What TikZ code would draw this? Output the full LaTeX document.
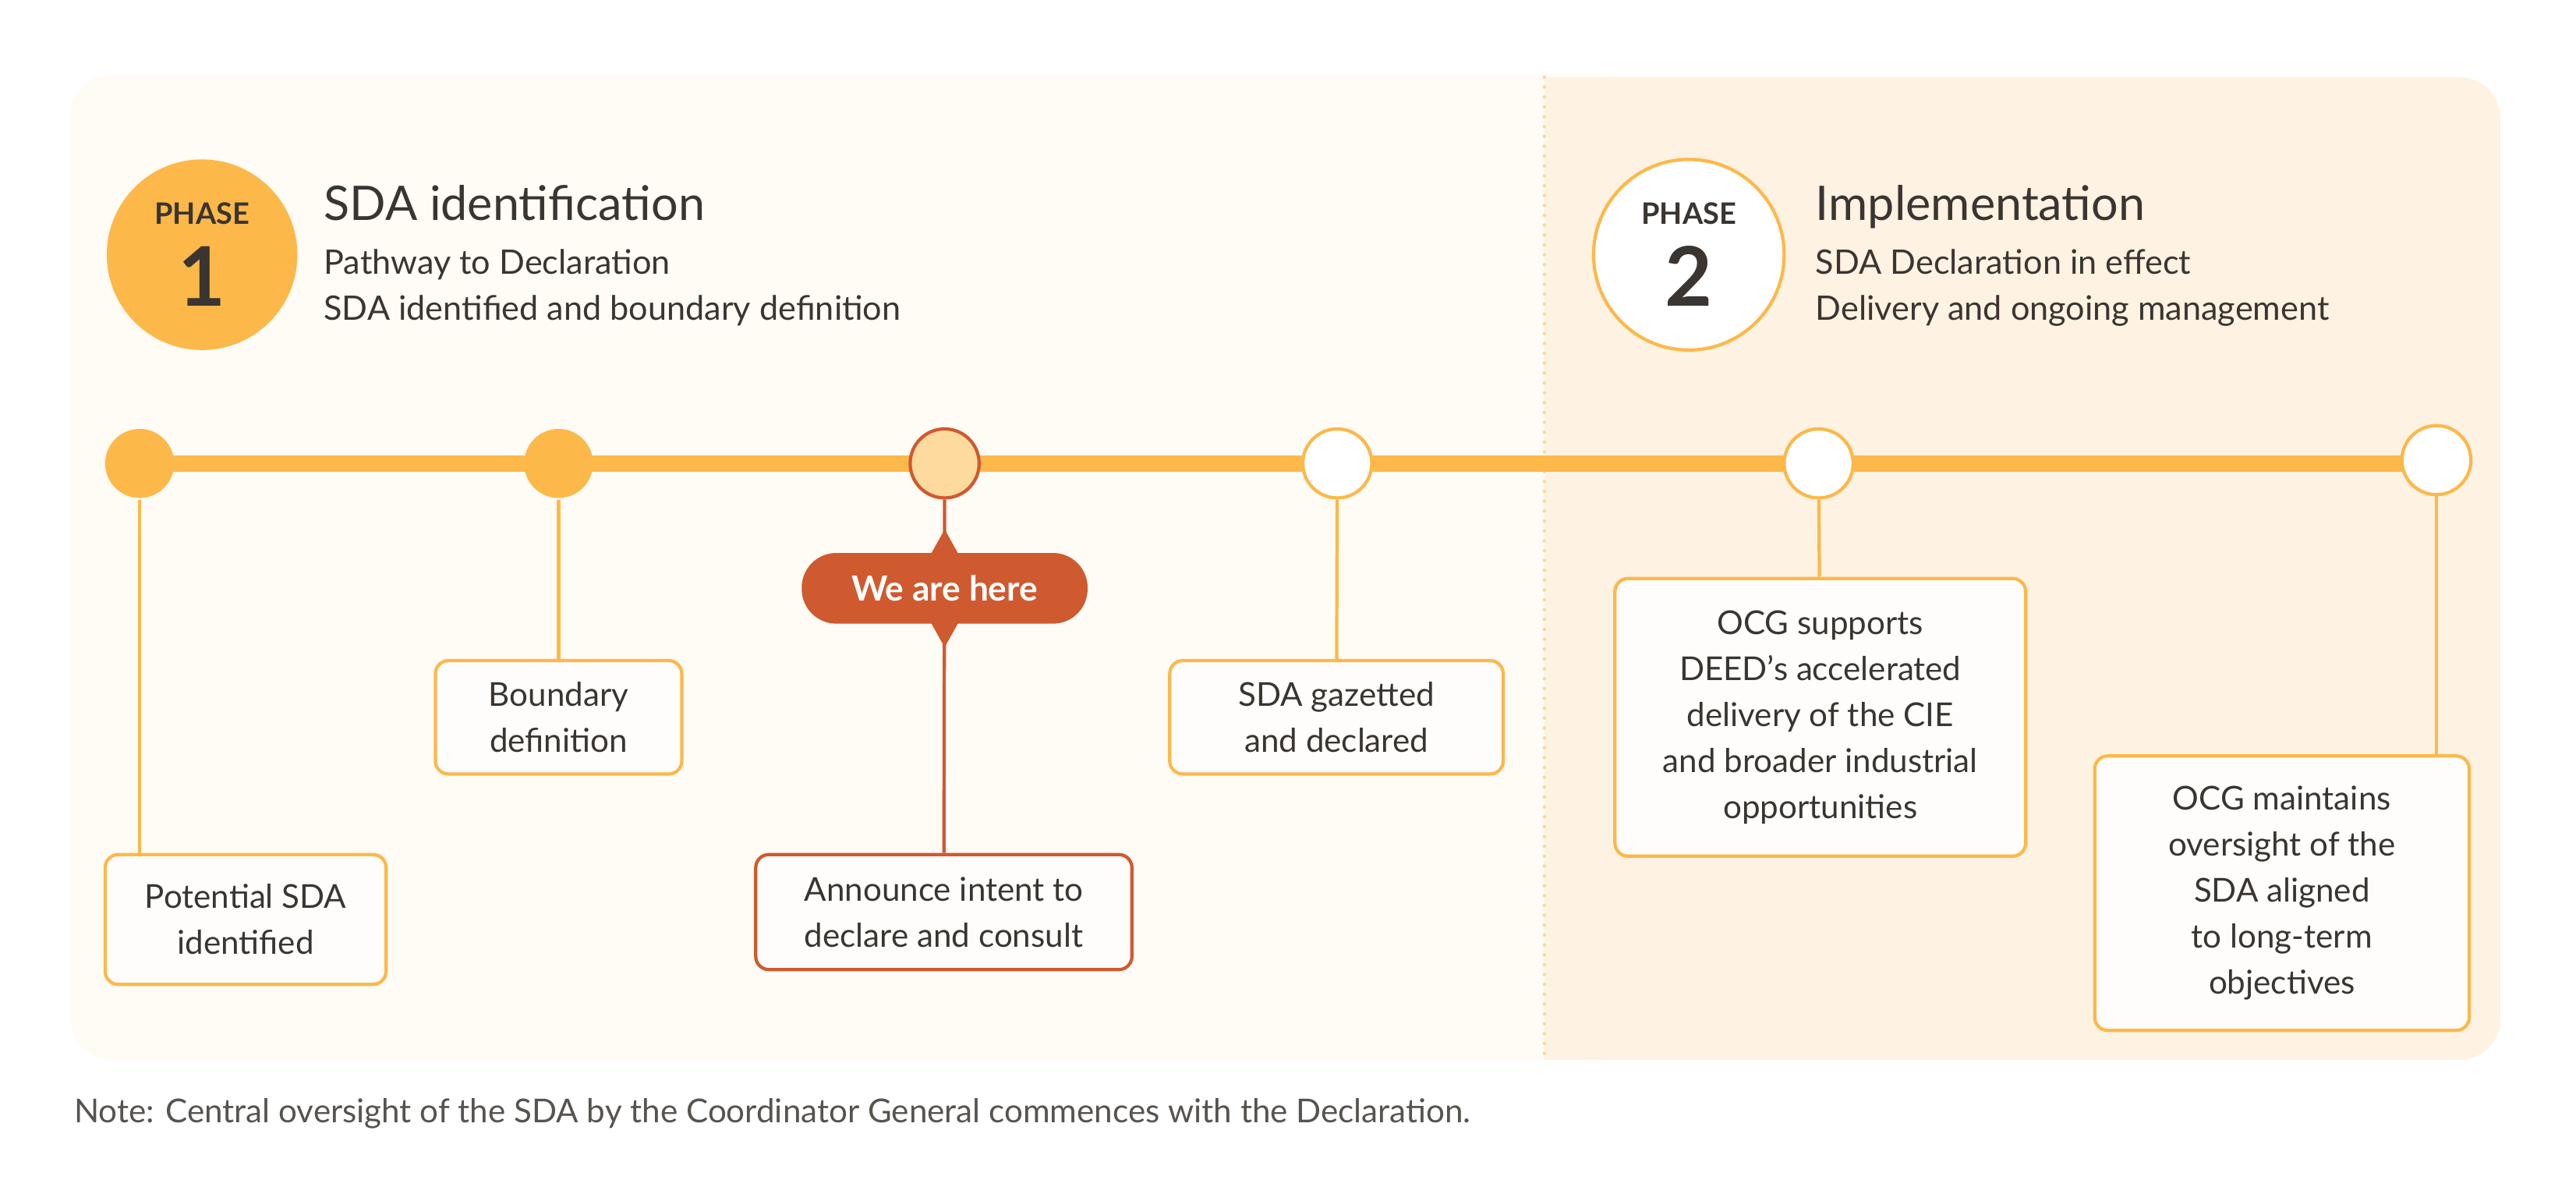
\documentclass[tikz,border=0pt]{standalone}
\usepackage{fontspec}
\setmainfont{Lato}
\usetikzlibrary{shapes.geometric}
\definecolor{org}{HTML}{FDB84A}
\definecolor{red}{HTML}{CF5A2F}
\definecolor{pale}{HTML}{FEDA9F}
\definecolor{bgA}{HTML}{FFFBF5}
\definecolor{bgB}{HTML}{FEF2E2}
\definecolor{txt}{HTML}{3A3530}
\begin{document}
\begin{tikzpicture}[x=1pt,y=-1pt,
 dot/.style={circle,minimum size=42pt,inner sep=0pt,line width=2pt},
 box/.style={draw=org,line width=2pt,fill=white!60!bgA,rounded corners=8pt,align=center,text=txt,font=\fontsize{20}{28}\selectfont,inner sep=0pt},
 stem/.style={org,line width=2pt},
 txtst/.style={text=txt,anchor=base west,inner sep=0pt}]
\useasboundingbox (0,0) rectangle (1568,722);
\fill[white] (0,0) rectangle (1568,722);
\fill[bgA,rounded corners=25pt] (43,45) rectangle (1000,645);
\fill[bgB,rounded corners=25pt] (940,47) rectangle (1522,645);
\fill[bgB] (940,47) rectangle (980,645);
\draw[org!60,line width=2pt,dash pattern=on 0pt off 6pt,line cap=round] (940,47) -- (940,645);
% phases
\node[circle,fill=org,minimum size=116pt,inner sep=0pt] (p1) at (123,155) {};
\node[text=txt,font=\fontsize{18}{18}\selectfont\bfseries] (p1a) at (123,130) {PHASE};
\node[text=txt,font=\fontsize{50}{50}\selectfont\bfseries] (p1b) at (123,168) {1};
\node[txtst,font=\fontsize{29}{30}\selectfont] (t1) at (197,134) {SDA identification};
\node[txtst,font=\fontsize{20.5}{24}\selectfont] (s1) at (197,167) {Pathway to Declaration};
\node[txtst,font=\fontsize{20.5}{24}\selectfont] (s2) at (197,195) {SDA identified and boundary definition};
\node[circle,fill=white,draw=org,line width=2pt,minimum size=116pt,inner sep=0pt] (p2) at (1028,155) {};
\node[text=txt,font=\fontsize{18}{18}\selectfont\bfseries] (p2a) at (1028,130) {PHASE};
\node[text=txt,font=\fontsize{50}{50}\selectfont\bfseries] (p2b) at (1028,168) {2};
\node[txtst,font=\fontsize{29}{30}\selectfont] (t2) at (1105,134) {Implementation};
\node[txtst,font=\fontsize{20.5}{24}\selectfont] (s3) at (1105,167) {SDA Declaration in effect};
\node[txtst,font=\fontsize{20.5}{24}\selectfont] (s4) at (1105,195) {Delivery and ongoing management};
% timeline
\coordinate (L) at (85,282); \coordinate (R) at (1483,282);
\draw[org,line width=10pt] (L) -- (R);
\node[dot,fill=org] (n1) at (85,282) {};
\node[dot,fill=org] (n2) at (340,282) {};
\node[dot,fill=pale,draw=red] (n3) at (575,282) {};
\node[dot,fill=white,draw=org] (n4) at (814,282) {};
\node[dot,fill=white,draw=org] (n5) at (1107,282) {};
\node[dot,fill=white,draw=org] (n6) at (1483,280) {};
% boxes
\node[box,minimum width=171pt,minimum height=79pt] (b1) at (149.5,559.5) {Potential SDA\\identified};
\node[box,minimum width=150pt,minimum height=69pt] (b2) at (340,436.5) {Boundary\\definition};
\node[box,draw=red,minimum width=229pt,minimum height=70pt] (b3) at (574.5,555) {Announce intent to\\declare and consult};
\node[box,minimum width=203pt,minimum height=69pt] (b4) at (813.5,436.5) {SDA gazetted\\and declared};
\node[box,minimum width=250pt,minimum height=169pt] (b5) at (1108,436.5) {OCG supports\\DEED’s accelerated\\delivery of the CIE\\and broader industrial\\opportunities};
\node[box,minimum width=228pt,minimum height=167pt] (b6) at (1389,543.5) {OCG maintains\\oversight of the\\SDA aligned\\to long-term\\objectives};
\draw[stem] (n1) -- (b1.north -| n1);
\draw[stem] (n2) -- (b2);
\draw[red,line width=2pt] (n3) -- (b3);
\draw[stem] (n4) -- (b4);
\draw[stem] (n5) -- (b5);
\draw[stem] (n6) -- (b6.north -| n6);
% we are here
\node[diamond,fill=red,minimum width=40pt,minimum height=72pt,inner sep=0pt] (d) at (575,358) {};
\node[fill=red,rounded corners=21pt,minimum width=174pt,minimum height=43pt,text=white,font=\fontsize{21}{21}\selectfont\bfseries] (w) at (575,358) {We are here};
\node[anchor=base west,inner sep=0pt,text=txt!85,font=\fontsize{20}{24}\selectfont] (note) at (45,683) {Note: Central oversight of the SDA by the Coordinator General commences with the Declaration.};
\end{tikzpicture}
\end{document}
